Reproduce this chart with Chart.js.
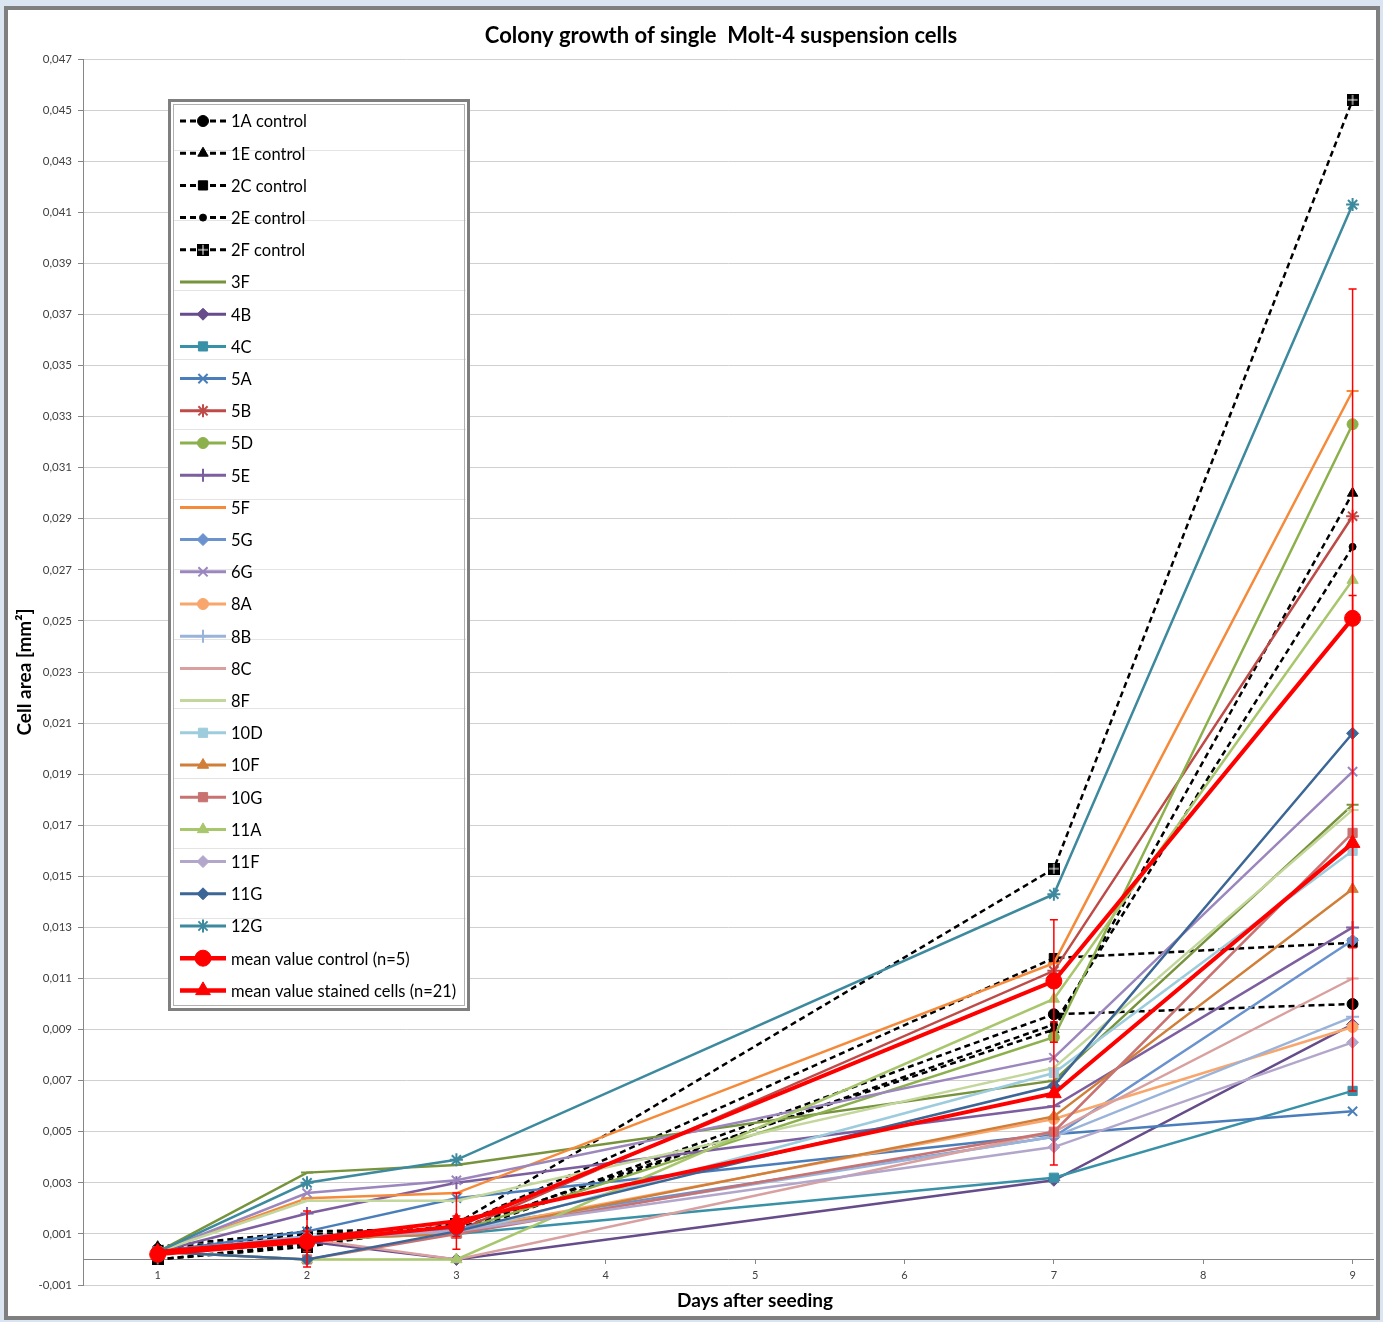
<!DOCTYPE html>
<html><head><meta charset="utf-8">
<script src="https://cdn.jsdelivr.net/npm/chart.js@4.4.0/dist/chart.umd.min.js"></script>
<style>
html,body{margin:0;padding:0;background:#dbe5f1;overflow:hidden;}
#frame{position:absolute;left:4px;top:6px;width:1368px;height:1306px;border:4px solid #7f7f7f;background:#fff;}
#wrap{position:absolute;left:0;top:0;width:1383px;height:1322px;}
</style></head><body>
<div id="frame"></div>
<div id="wrap"><canvas id="c" width="1383" height="1322"></canvas></div>
<script>
// ---- data ----
const days = [1, 2, 3, 7, 9];
const xTickValues = [1, 2, 3, 4, 5, 6, 7, 8, 9];
const yTickValues = [-0.001, 0.001, 0.003, 0.005, 0.007, 0.009, 0.011, 0.013, 0.015, 0.017, 0.019, 0.021, 0.023, 0.025, 0.027, 0.029, 0.031, 0.033, 0.035, 0.037, 0.039, 0.041, 0.043, 0.045, 0.047];

const v1A  = [0.0004, 0.0010, 0.0011, 0.0096, 0.0100];
const v1E  = [0.0005, 0.0011, 0.0012, 0.0090, 0.0300];
const v2C  = [0.0000, 0.0006, 0.0013, 0.0118, 0.0124];
const v2E  = [0.0003, 0.0009, 0.0010, 0.0092, 0.0279];
const v2F  = [0.0000, 0.0005, 0.0014, 0.0153, 0.0454];
const v3F  = [0.0003, 0.0034, 0.0037, 0.0070, 0.0178];
const v4B  = [0.0003, 0.0007, 0.0000, 0.0031, 0.0092];
const v4C  = [0.0002, 0.0008, 0.0010, 0.0032, 0.0066];
const v5A  = [0.0003, 0.0011, 0.0024, 0.0049, 0.0058];
const v5B  = [0.0003, 0.0008, 0.0011, 0.0113, 0.0291];
const v5D  = [0.0003, 0.0007, 0.0011, 0.0087, 0.0327];
const v5E  = [0.0003, 0.0018, 0.0030, 0.0060, 0.0130];
const v5F  = [0.0003, 0.0024, 0.0026, 0.0116, 0.0340];
const v5G  = [0.0003, 0.0009, 0.0012, 0.0048, 0.0125];
const v6G  = [0.0003, 0.0026, 0.0031, 0.0079, 0.0191];
const v8A  = [0.0003, 0.0008, 0.0011, 0.0055, 0.0091];
const v8B  = [0.0003, 0.0009, 0.0011, 0.0048, 0.0095];
const v8C  = [0.0003, 0.0008, 0.0000, 0.0050, 0.0110];
const v8F  = [0.0003, 0.0023, 0.0023, 0.0075, 0.0176];
const v10D = [0.0003, 0.0008, 0.0010, 0.0073, 0.0160];
const v10F = [0.0003, 0.0008, 0.0010, 0.0056, 0.0145];
const v10G = [0.0003, 0.0000, 0.0010, 0.0050, 0.0167];
const v11A = [0.0003, 0.0000, 0.0000, 0.0102, 0.0266];
const v11F = [0.0003, 0.0008, 0.0011, 0.0044, 0.0085];
const v11G = [0.0003, 0.0000, 0.0011, 0.0068, 0.0206];
const v12G = [0.0003, 0.0030, 0.0039, 0.0143, 0.0413];
const vMeanControl    = [0.0002, 0.0007, 0.0013, 0.0109, 0.0251];
const errMeanControl  = [0.0002, 0.0004, 0.0004, 0.0024, 0.0129];
const vMeanStained    = [0.0003, 0.0008, 0.0015, 0.0065, 0.0163];
const errMeanStained  = [0.0001, 0.0011, 0.0011, 0.0028, 0.0097];

const chartTitle = 'Colony growth of single  Molt-4 suspension cells';
const xTitle = 'Days after seeding';
const yTitle = 'Cell area [mm²]';

// ---- styles ----
function crossSquare(){
  const c=document.createElement('canvas'); c.width=12; c.height=12;
  const g=c.getContext('2d'); g.fillStyle='#000'; g.fillRect(0,0,12,12);
  g.fillStyle='#fff'; g.fillRect(5.5,1,1,10); g.fillRect(1,5.5,10,1);
  return c;
}
const FONT='Lato, "Open Sans", sans-serif';
const ctrl = (label, data, ps, r) => ({label, data, color:'#000', dash:[6,4], width:2.5, ps, r});
const ser = (label, data, color, ps, r) => ({label, data, color, dash:[], width:2.5, ps, r});
const series = [
  ctrl('1A control', v1A, 'circle', 5.5),
  ctrl('1E control', v1E, 'triangle', 6),
  ctrl('2C control', v2C, 'rect', 6.5),
  ctrl('2E control', v2E, 'circle', 3.5),
  ctrl('2F control', v2F, crossSquare(), 6),
  ser('3F', v3F, '#77933C', 'line', 6),
  ser('4B', v4B, '#664C8A', 'rectRot', 6),
  ser('4C', v4C, '#3891A7', 'rect', 6.5),
  ser('5A', v5A, '#4A7EBB', 'crossRot', 6.5),
  ser('5B', v5B, '#BE4B48', 'star', 6.5),
  ser('5D', v5D, '#8CB04C', 'circle', 5.5),
  ser('5E', v5E, '#7D5FA0', 'cross', 6.5),
  ser('5F', v5F, '#F58A3A', 'line', 6),
  ser('5G', v5G, '#6A92CE', 'rectRot', 6),
  ser('6G', v6G, '#9B86BD', 'crossRot', 6.5),
  ser('8A', v8A, '#F9A66C', 'circle', 5.5),
  ser('8B', v8B, '#9AB3DA', 'cross', 6.5),
  ser('8C', v8C, '#D9A0A0', 'line', 6),
  ser('8F', v8F, '#C3D69B', 'line', 6),
  ser('10D', v10D, '#9DCCDD', 'rect', 6.5),
  ser('10F', v10F, '#D07E38', 'triangle', 6.5),
  ser('10G', v10G, '#C87272', 'rect', 6.5),
  ser('11A', v11A, '#A8C66C', 'triangle', 6.5),
  ser('11F', v11F, '#B3A6CB', 'rectRot', 6),
  ser('11G', v11G, '#3C6696', 'rectRot', 6),
  ser('12G', v12G, '#3D8A9E', 'star', 6.5),
  {label:'mean value control (n=5)', data:vMeanControl, err:errMeanControl, color:'#FF0000', dash:[], width:4, ps:'circle', r:8},
  {label:'mean value stained cells (n=21)', data:vMeanStained, err:errMeanStained, color:'#FF0000', dash:[], width:4, ps:'triangle', r:8.5}
];
const N = series.length;
const datasets = series.map((s,i)=>({
  label:s.label,
  data: days.map((d,k)=>({x:d, y:s.data[k]})),
  errBars: s.err || null,
  borderColor:s.color, backgroundColor:s.color,
  borderWidth:s.width, borderDash:s.dash,
  pointStyle:s.ps, pointRadius:s.r,
  pointBackgroundColor:s.color, pointBorderColor:s.color,
  pointBorderWidth:(['cross','crossRot','star','line'].includes(s.ps)?2:1),
  tension:0, fill:false, order:N-i
}));

const errorBarPlugin = {
  id:'errorBars',
  afterDatasetsDraw(chart){
    const ctx=chart.ctx, ys=chart.scales.y;
    chart.data.datasets.forEach((ds,i)=>{
      if(!ds.errBars) return;
      const meta=chart.getDatasetMeta(i);
      ctx.save();
      ctx.strokeStyle='#FF0000'; ctx.lineWidth=1.5;
      meta.data.forEach((pt,k)=>{
        const v=ds.data[k].y, e=ds.errBars[k];
        const x=pt.x, y1=ys.getPixelForValue(v+e), y2=ys.getPixelForValue(v-e);
        ctx.beginPath();
        ctx.moveTo(x,y1); ctx.lineTo(x,y2);
        ctx.moveTo(x-4,y1); ctx.lineTo(x+4,y1);
        ctx.moveTo(x-4,y2); ctx.lineTo(x+4,y2);
        ctx.stroke();
      });
      ctx.restore();
    });
  }
};

const textPlugin = {
  id:'texts',
  afterDraw(chart){
    const ctx=chart.ctx;
    ctx.save();
    ctx.fillStyle='#000'; ctx.textAlign='center'; ctx.textBaseline='middle';
    ctx.font='bold 22px '+FONT; ctx.fillText(chartTitle, 721, 36);
    ctx.font='bold 19px '+FONT; ctx.fillText(xTitle, 755, 1301);
    ctx.translate(25, 672); ctx.rotate(-Math.PI/2);
    ctx.fillText(yTitle, 0, 0);
    ctx.restore();
  }
};

const legendPlugin = {
  id:'boxLegend',
  afterDraw(chart){
    const ctx=chart.ctx;
    ctx.save();
    ctx.fillStyle='#fff'; ctx.fillRect(168,99,302,912);
    ctx.strokeStyle='#e4e4e4'; ctx.lineWidth=1;
    for(let k=0;k<12;k++){const yy=Math.round(150+k*69.8)+0.5; ctx.beginPath(); ctx.moveTo(174,yy); ctx.lineTo(466,yy); ctx.stroke();}
    ctx.strokeStyle='#7f7f7f'; ctx.lineWidth=3; ctx.strokeRect(169.5,100.5,299,909);
    ctx.strokeStyle='#b0b0b0'; ctx.lineWidth=1; ctx.strokeRect(173.5,104.5,291,901);
    chart.data.datasets.forEach((ds,i)=>{
      const y=121+i*32.2;
      ctx.save();
      ctx.strokeStyle=ds.borderColor; ctx.lineWidth=ds.borderWidth+0.5; ctx.setLineDash(ds.borderDash||[]);
      ctx.beginPath(); ctx.moveTo(180,y); ctx.lineTo(226,y); ctx.stroke();
      ctx.restore();
      ctx.save();
      ctx.fillStyle=ds.pointBackgroundColor; ctx.strokeStyle=ds.pointBorderColor; ctx.lineWidth=ds.pointBorderWidth;
      Chart.helpers.drawPoint(ctx,{pointStyle:ds.pointStyle, radius:ds.pointRadius, borderWidth:ds.pointBorderWidth, rotation:0}, 203, y);
      ctx.restore();
      ctx.fillStyle='#000'; ctx.font='16.5px '+FONT; ctx.textBaseline='middle'; ctx.textAlign='left';
      ctx.fillText(ds.label,231,y+1);
    });
    ctx.restore();
  }
};

new Chart(document.getElementById('c'), {
  type:'line',
  data:{datasets},
  plugins:[errorBarPlugin, legendPlugin, textPlugin],
  options:{
    responsive:false, animation:false, devicePixelRatio:1,
    layout:{padding:{left:0,right:7,top:59,bottom:0}},
    plugins:{ legend:{display:false}, tooltip:{enabled:false}, title:{display:false} },
    scales:{
      x:{type:'linear', position:'bottom', min:0.5, max:9.14,
        ticks:{display:false}, grid:{display:false}, border:{display:false},
        afterFit(s){ s.height=37; }
      },
      xt:{type:'linear', axis:'x', position:{y:0}, min:0.5, max:9.14,
        afterBuildTicks(s){ s.ticks = xTickValues.map(v=>({value:v})); },
        ticks:{color:'#404040', font:{family:FONT,size:11}, padding:5, maxRotation:0, autoSkip:false,
          callback:(v)=>String(v)},
        grid:{drawOnChartArea:false, tickLength:4, color:'#868686'},
        border:{display:true, color:'#868686', width:1}
      },
      y:{type:'linear', position:'left', min:-0.001, max:0.047,
        afterBuildTicks(s){ s.ticks = yTickValues.map(v=>({value:v})); },
        afterFit(s){ s.width=83; },
        ticks:{color:'#404040', font:{family:FONT,size:11.5}, padding:6, autoSkip:false,
          callback:(v)=>v.toFixed(3).replace('.',',')},
        grid:{color:'#d0d0d0', lineWidth:1, tickLength:5, tickColor:'#868686'},
        border:{display:true, color:'#868686', width:1}
      }
    }
  }
});
</script>
</body></html>
